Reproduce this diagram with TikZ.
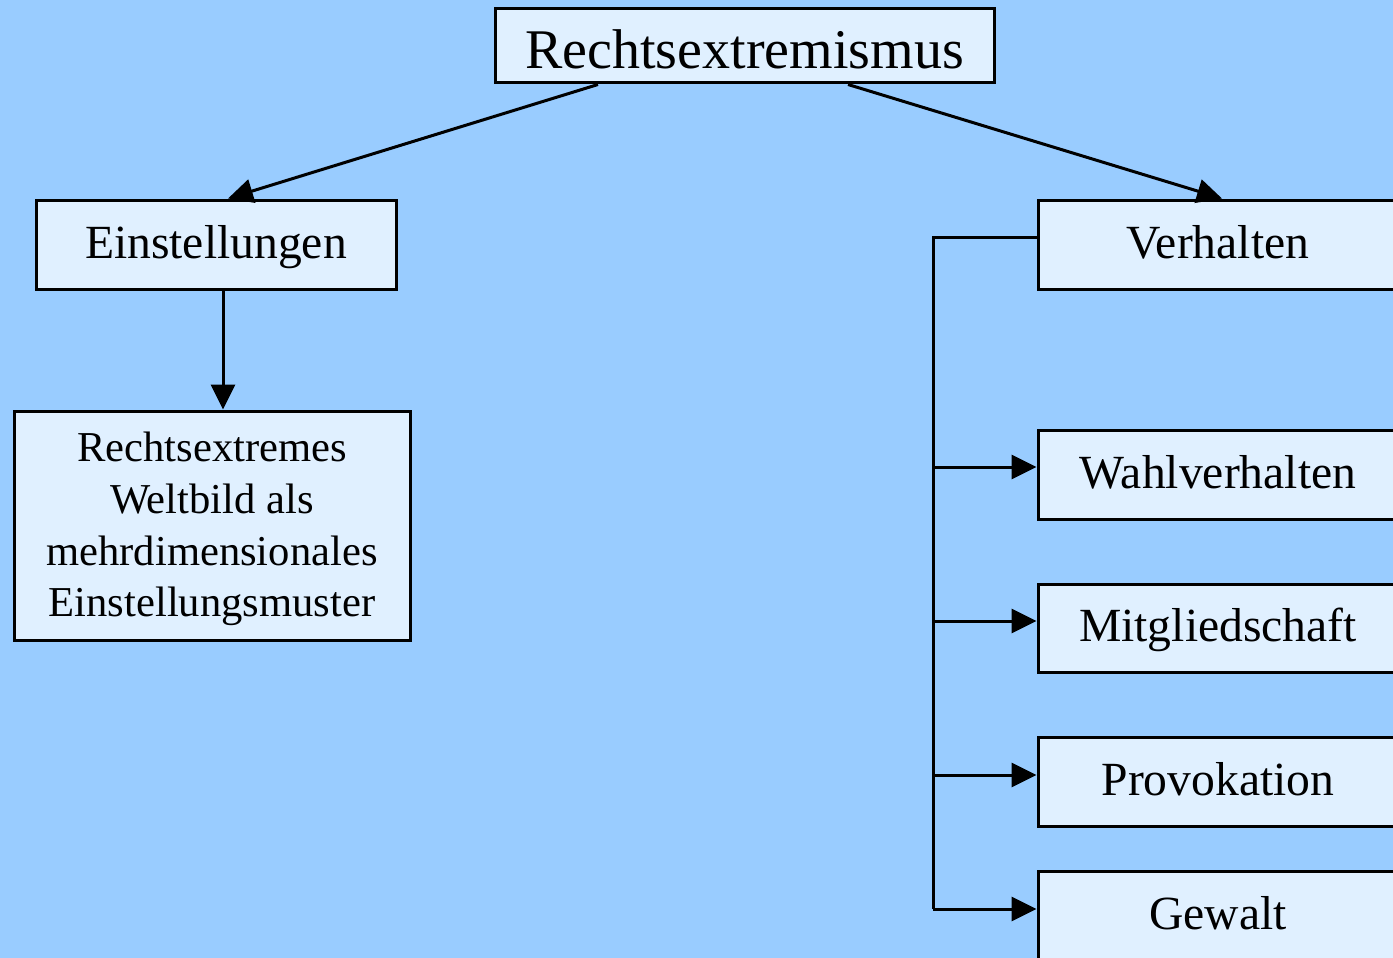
\documentclass[tikz,border=0pt]{standalone}
\usepackage{fontspec}
\setmainfont{Liberation Serif}
\usetikzlibrary{arrows.meta,calc}
\definecolor{bg}{HTML}{99CCFF}
\definecolor{boxfill}{HTML}{E0F0FF}
\begin{document}
\begin{tikzpicture}[x=1pt,y=-1pt,
  box/.style={draw=black,fill=boxfill,line width=3pt,inner sep=0pt,align=center},
  onebox/.style={box,minimum width=360pt,minimum height=89pt,text height=35pt,text depth=8pt,font=\fontsize{47.6}{52}\selectfont},
  conn/.style={line width=3pt,-{Triangle[length=25pt,width=24pt]}},
  plain/.style={line width=3pt}]
\useasboundingbox (0,0) rectangle (1393,958);
\fill[bg] (0,0) rectangle (1393,958);
\begin{scope}
\clip (0,0) rectangle (1393,958);
\node[box,minimum width=499pt,minimum height=74pt,text height=46pt,text depth=0pt,font=\fontsize{56}{62}\selectfont] (top) at (744.5,46) {Rechtsextremismus};
\node[onebox] (ein) at (216,244.5) {Einstellungen};
\node[box,minimum width=396pt,minimum height=229pt,font=\fontsize{42.6}{51.7}\selectfont] (welt) at (212,525.5) {\rule{0pt}{37pt}Rechtsextremes\\Weltbild als\\mehrdimensionales\\Einstellungsmuster};
\node[onebox] (ver) at (1218,244.5) {Verhalten};
\node[onebox] (wahl) at (1218,474.5) {Wahlverhalten};
\node[onebox,minimum height=88pt] (mit) at (1218,628) {Mitgliedschaft};
\node[onebox] (pro) at (1218,781.5) {Provokation};
\node[onebox] (gew) at (1218,915.5) {Gewalt};
\end{scope}
\coordinate (bus) at (933,237);
\coordinate (busend) at (933,909);
\draw[conn] ([xshift=-146.5pt]top.south) -- ([xshift=12pt]ein.north);
\draw[conn] ([xshift=103.5pt]top.south) -- ([xshift=4pt]ver.north);
\draw[conn] (ein.south -| 223,0) -- (welt.north -| 223,0);
\draw[plain] (ver.west |- bus) -- (bus) -- (busend);
\draw[conn] (bus |- 0,467) -- (wahl.west |- 0,467);
\draw[conn] (bus |- 0,621) -- (mit.west |- 0,621);
\draw[conn] (bus |- 0,775) -- (pro.west |- 0,775);
\draw[conn] (busend) -- (gew.west |- busend);
\end{tikzpicture}
\end{document}
